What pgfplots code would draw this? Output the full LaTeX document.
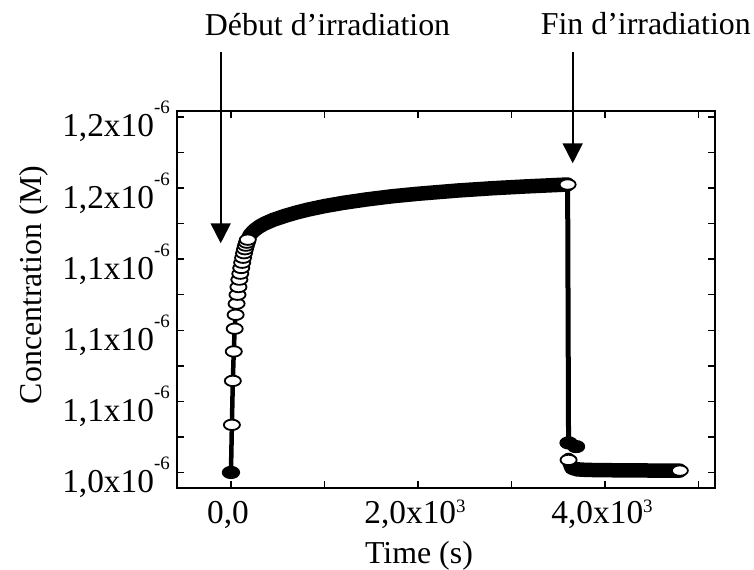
\documentclass[border=0pt]{standalone}
\usepackage{fontspec}
\setmainfont{Liberation Serif}
\usepackage{pgfplots}
\usepackage{pgfplotstable}
\pgfplotsset{compat=1.18}
\usetikzlibrary{arrows.meta}
\newcommand{\yl}[1]{#1x10\raisebox{23bp}{\fontsize{19}{19}\selectfont -6}}
\newcommand{\xl}[1]{#1x10\raisebox{11bp}{\fontsize{19}{19}\selectfont 3}}

\pgfplotstableread{
t c
0 1.0000
10 1.0335
20 1.0644
30 1.0851
40 1.1011
50 1.1109
60 1.1187
70 1.1250
80 1.1304
90 1.1356
100 1.1398
110 1.1438
120 1.1475
130 1.1510
140 1.1542
150 1.1570
160 1.1595
170 1.1616
180 1.1637
190 1.1654
200 1.1669
}\early

\pgfplotstableread{
t c
180 1.1637
200 1.1669
250 1.1703
300 1.1728
360 1.1750
450 1.1776
580 1.1805
700 1.1828
820 1.1848
1000 1.1873
1200 1.1896
1450 1.1920
1720 1.1942
2000 1.1960
2430 1.1983
2800 1.1999
3140 1.2011
3400 1.2019
3600 1.2025
}\band

\pgfplotstableread{
t c
3610 1.0088
3640 1.0035
3700 1.0022
3800 1.0018
4000 1.0016
4400 1.0014
4800 1.0013
}\tail

\begin{document}
\begin{tikzpicture}
\useasboundingbox (0,0) rectangle (754bp,570bp);
\begin{axis}[
  at={(177bp,82bp)}, anchor=south west,
  width=538bp, height=377bp, scale only axis,
  xmin=-577, xmax=5176, ymin=0.98908, ymax=1.2542,
  xtick={0,2000,4000}, minor xtick={1000,3000,5000},
  xticklabels={{0,0},{\xl{2,0}},{\xl{4,0}}},
  ytick={1,1.05,1.1,1.15,1.2,1.25},
  minor ytick={1.025,1.075,1.125,1.175,1.225},
  yticklabels={{\yl{1,0}},{\yl{1,1}},{\yl{1,1}},{\yl{1,1}},{\yl{1,2}},{\yl{1,2}}},
  scaled ticks=false,
  tick align=inside, major tick length=7bp, minor tick length=7bp,
  axis line style={line width=1.8bp},
  tick style={black, line width=1.4bp},
  tick label style={font=\fontsize{33.5}{38}\selectfont, inner sep=0pt},
  xticklabel style={anchor=base, yshift=-35bp, xshift=-3bp},
  yticklabel style={anchor=base east, xshift=-7bp, yshift=-20bp},
  clip=false,
]
% connecting line
\addplot[black, line width=4.5bp, line join=round] table {\early};
\addplot[black, line width=5bp, line join=round] coordinates {(3600,1.2025) (3610,1.0208)};
% open symbols (early, well separated)
\addplot[only marks, mark=*, mark size=5.2bp,
  mark options={xscale=1.55, fill=white, draw=black, line width=1.8bp}]
  coordinates {(10,1.0335) (20,1.0644) (30,1.0851) (40,1.1011) (50,1.1109)
  (60,1.1187) (70,1.1250) (80,1.1304) (90,1.1356) (100,1.1398) (110,1.1438)
  (120,1.1475) (130,1.1510) (140,1.1542) (150,1.1570) (160,1.1595)
  (170,1.1616) (180,1.1637)};
% dense overlapping symbols (band)
\addplot[black, line width=14.5bp, line cap=round, line join=round] table {\band};
\addplot[black, line width=14.5bp, line cap=round, line join=round] table {\tail};
% open symbols at the ends
\addplot[only marks, mark=*, mark size=5.2bp,
  mark options={xscale=1.55, fill=white, draw=black, line width=1.8bp}]
  coordinates {(3600,1.2025) (3610,1.0088) (4800,1.0013)};
% filled symbols
\addplot[only marks, mark=*, mark size=5.7bp,
  mark options={xscale=1.45, fill=black, draw=black, line width=1.8bp}]
  coordinates {(0,1.0000) (3610,1.0208) (3690,1.0182)};
\end{axis}
\draw[line width=2bp, -{Triangle[width=20bp,length=20bp]}] (220.7bp,518.3bp) -- (220.7bp,326.7bp);
\draw[line width=2bp, -{Triangle[width=20bp,length=20bp]}] (572.7bp,518.3bp) -- (572.7bp,406.7bp);
\begin{scope}[every node/.style={inner sep=0pt, font=\fontsize{32}{36}\selectfont}]
\node[anchor=base] at (327.5bp,534bp) {Début d’irradiation};
\node[anchor=base] at (645.8bp,535bp) {Fin d’irradiation};
\node[anchor=base] at (419bp,6.4bp) {Time (s)};
\node[anchor=base, rotate=90] at (41.7bp,285bp) {Concentration (M)};
\end{scope}
\end{tikzpicture}
\end{document}
